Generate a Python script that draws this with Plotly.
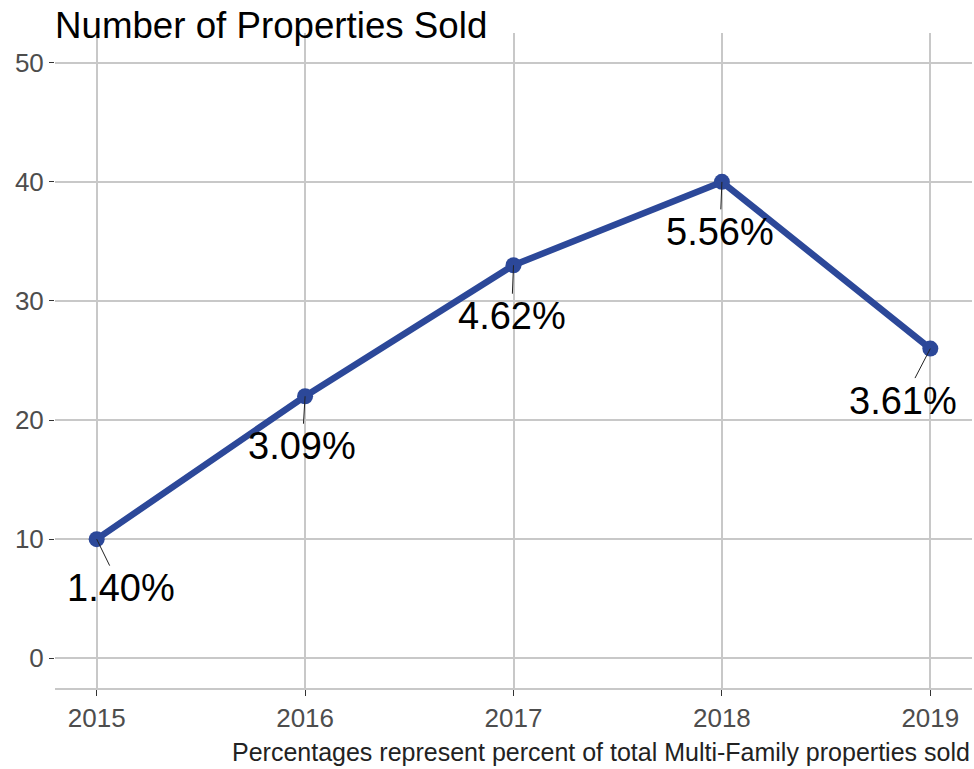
import plotly.graph_objects as go

years = [2015, 2016, 2017, 2018, 2019]
sold = [10, 22, 33, 40, 26]
pct_labels = ["1.40%", "3.09%", "4.62%", "5.56%", "3.61%"]
label_dx = [24, -3, -2, -2, -27]
label_dy = [49, 50, 51, 50, 52]

FONT = "Liberation Sans, Arial, sans-serif"
line_color = "#2C4899"
fig = go.Figure()
fig.add_trace(go.Scatter(
    x=years, y=sold, mode="lines+markers",
    line=dict(color=line_color, width=6.5),
    marker=dict(color=line_color, size=16),
    showlegend=False, cliponaxis=False,
))

for x, y, t, dx, dy in zip(years, sold, pct_labels, label_dx, label_dy):
    fig.add_annotation(
        x=x, y=y, text=t, showarrow=True, arrowhead=0, arrowwidth=1,
        arrowcolor="#222222", ax=dx, ay=dy, standoff=0,
        font=dict(size=38, color="black", family=FONT),
    )

fig.add_annotation(
    xref="paper", yref="paper", x=1.0, y=-0.098, xanchor="right", yanchor="middle",
    text="Percentages represent percent of total Multi-Family properties sold",
    showarrow=False,
    font=dict(size=25, color="#222222", family=FONT),
)

fig.update_layout(
    width=974, height=769,
    paper_bgcolor="white", plot_bgcolor="white",
    margin=dict(l=55, r=2, t=33, b=81),
    title=dict(text="Number of Properties Sold", x=55/974, xanchor="left",
               y=1 - 25/769, yanchor="middle",
               font=dict(size=36.7, color="black", family=FONT)),
    font=dict(family=FONT),
    xaxis=dict(range=[2014.8, 2019.2], tickvals=years, ticktext=[str(y) for y in years],
               showgrid=True, gridcolor="#C8C8C8", gridwidth=1.5,
               zeroline=False, showline=True, linecolor="#C8C8C8", linewidth=1.5,
               ticks="outside", ticklen=6, tickcolor="#333333", automargin=False,
               tickfont=dict(size=26, color="#4D4D4D")),
    yaxis=dict(range=[-2.5, 52.5], tickvals=[0, 10, 20, 30, 40, 50],
               showgrid=True, gridcolor="#C8C8C8", gridwidth=1.5,
               zeroline=False, showline=False, automargin=False,
               ticks="outside", ticklen=5, tickcolor="#333333",
               tickfont=dict(size=26, color="#4D4D4D")),
)

fig.write_html("out.html", config={"displayModeBar": False},
               post_script="document.body.style.margin='0px';")
